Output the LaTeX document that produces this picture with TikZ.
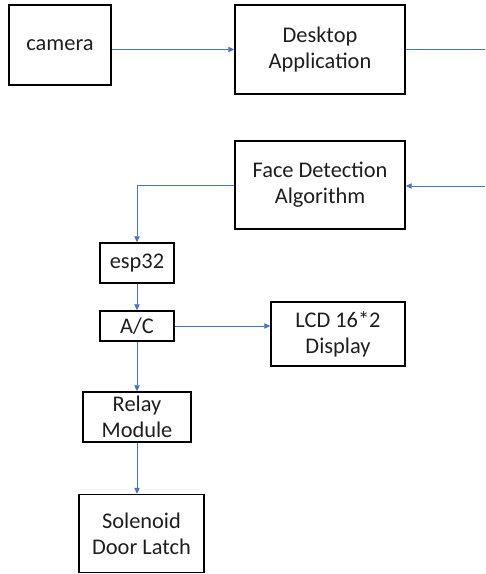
\documentclass[tikz,border=0pt]{standalone}
\usepackage{fontspec}
\setmainfont{Carlito}
\usetikzlibrary{arrows.meta}
\definecolor{linkblue}{RGB}{68,114,196}
\definecolor{textgrey}{RGB}{30,30,30}
\tikzset{
  block/.style={draw=black, line width=1.1pt, align=center, inner sep=0pt, text=textgrey, font=\fontsize{16.8}{19.5}\selectfont},
  link/.style={draw=linkblue, line width=0.6pt, -{Triangle[length=4.5pt,width=4pt]}},
}
\begin{document}
\begin{tikzpicture}[x=0.75pt,y=-0.75pt]
\useasboundingbox (0,0) rectangle (485,574);
% top row
\node[block, minimum width=76.5pt, minimum height=60pt] (camera) at (60,45) {camera};
\node[block, minimum width=127.5pt, minimum height=66.75pt] (desk) at (320,49.5) {Desktop\\Application};
\node[block, minimum width=127.5pt, minimum height=66pt] (fd) at (320,185) {Face Detection\\Algorithm};
% hardware chain
\node[block, minimum width=55.5pt, minimum height=30pt] (esp) at (137,263) {esp32};
\node[block, minimum width=55.5pt, minimum height=22.5pt] (ac) at (137,326) {A/C};
\node[block, minimum width=100.5pt, minimum height=48pt] (lcd) at (338,334) {LCD 16*2\\Display};
\node[block, minimum width=81pt, minimum height=37.5pt] (relay) at (137,417) {Relay\\Module};
\node[block, minimum width=93.75pt, minimum height=58.5pt] (sol) at (141.5,533.5) {Solenoid\\Door Latch};
\coordinate (deskout) at (485,49.5);
\coordinate (fdin) at (485,186);
% connectors
\draw[link] (camera.east |- desk) -- (desk.west);
\draw[linkblue, line width=0.6pt] (desk.east) -- (deskout);
\draw[link] (fdin) -- (fd.east |- fdin);
\draw[link] (fd.west) -| (esp.north);
\draw[link] (esp.south) -- (ac.north);
\draw[link] (ac.east) -- (ac.east -| lcd.west);
\draw[link] (ac.south) -- (relay.north);
\draw[link] (relay.south) -- (relay.south |- sol.north);
\end{tikzpicture}
\end{document}
